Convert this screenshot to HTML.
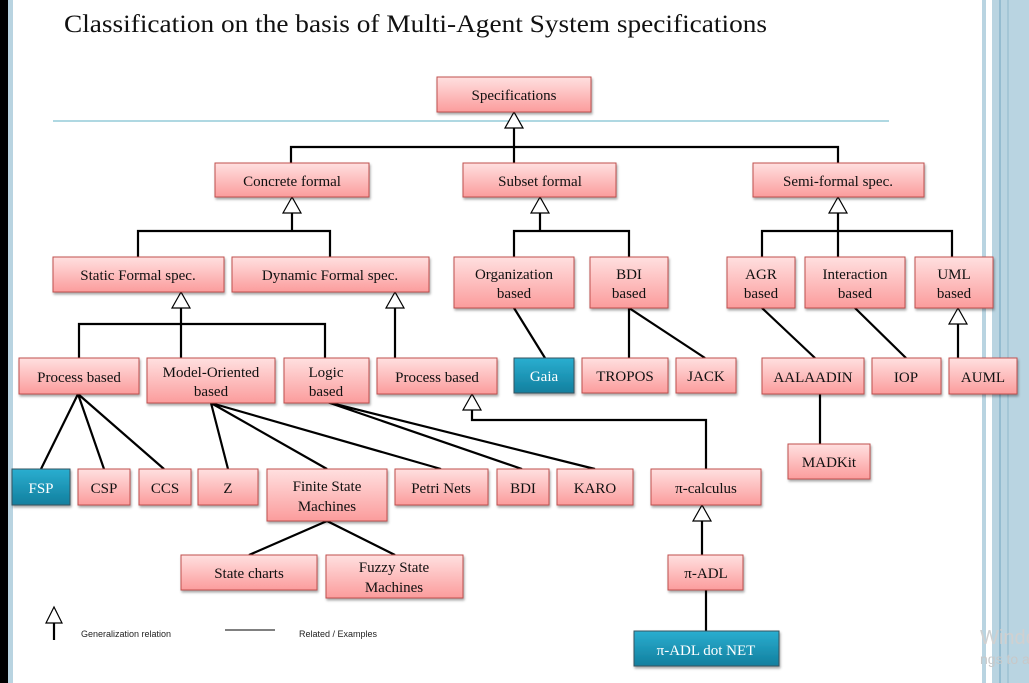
<!DOCTYPE html>
<html><head><meta charset="utf-8"><style>
html,body{margin:0;padding:0;background:#fff;}
svg{display:block;}
.b{font-family:"Liberation Serif",serif;font-size:15px;fill:#111;text-anchor:middle;}
.w{font-family:"Liberation Serif",serif;font-size:15px;fill:#fff;text-anchor:middle;}
</style></head><body>
<svg width="1029" height="683" viewBox="0 0 1029 683" xmlns="http://www.w3.org/2000/svg">
<defs>
<linearGradient id="p" x1="0" y1="0" x2="0" y2="1"><stop offset="0" stop-color="#ffe0e0"/><stop offset="1" stop-color="#fb9c9c"/></linearGradient>
<linearGradient id="bl" x1="0" y1="0" x2="0" y2="1"><stop offset="0" stop-color="#2aaed0"/><stop offset="1" stop-color="#127f9e"/></linearGradient>
<filter id="s" x="-10%" y="-10%" width="130%" height="140%"><feDropShadow dx="1" dy="2" stdDeviation="1.2" flood-color="#000" flood-opacity="0.35"/></filter>
</defs>
<rect x="0" y="0" width="8" height="683" fill="#000"/>
<rect x="8" y="0" width="5" height="683" fill="#b9d4e1"/>
<rect x="982" y="0" width="4" height="683" fill="#b9d4e1"/>
<rect x="992" y="0" width="37" height="683" fill="#b9d4e1"/>
<line x1="1000" y1="0" x2="1000" y2="683" stroke="#6fa5c0" stroke-width="1"/>
<line x1="1008" y1="0" x2="1008" y2="683" stroke="#8fb8cc" stroke-width="1"/>
<text x="64" y="32" font-family="Liberation Serif,serif" font-size="25" fill="#111" textLength="703" lengthAdjust="spacingAndGlyphs">Classification on the basis of  Multi-Agent System specifications</text>
<line x1="53" y1="121" x2="889" y2="121" stroke="#7fc0d0" stroke-width="1.2"/>
<g stroke="#000" stroke-width="2.2" fill="none">
<path d="M514 128V163M291 163V147H838V163"/>
<path d="M292 213V231M138 257V231H330V257"/>
<path d="M540 213V231M514 257V231H629V257"/>
<path d="M838 213V257M762 257V231H952V257"/>
<path d="M181 308V358M79 358V324H325V358"/>
<path d="M395 308V358"/>
<path d="M514 308L545 358M629 308V358M629 308L705 358"/>
<path d="M762 308L815 358M855 308L906 358M958 324V358"/>
<path d="M820 394V444"/>
<path d="M78 394L41 469M78 394L104 469M78 394L164 469"/>
<path d="M211 403L228 469M211 403L327 469M211 403L441 469"/>
<path d="M327 402L522 469M327 402L595 469"/>
<path d="M472 410V420H706V469"/>
<path d="M702 521V555M706 590V631"/>
<path d="M327 521L249 555M327 521L395 555"/>
<path d="M54 623V640"/>
</g>
<line x1="225" y1="630" x2="275" y2="630" stroke="#000" stroke-width="1"/>
<g fill="#fff" stroke="#000" stroke-width="1.2">
<path d="M514 112L505 128H523Z"/>
<path d="M292 197L283 213H301Z"/>
<path d="M540 197L531 213H549Z"/>
<path d="M838 197L829 213H847Z"/>
<path d="M181 292L172 308H190Z"/>
<path d="M395 292L386 308H404Z"/>
<path d="M958 308L949 324H967Z"/>
<path d="M472 394L463 410H481Z"/>
<path d="M702 505L693 521H711Z"/>
<path d="M54 607L46 623H62Z"/>
</g>
<text x="81" y="637" font-family="Liberation Sans,sans-serif" font-size="9" fill="#222">Generalization relation</text>
<text x="299" y="637" font-family="Liberation Sans,sans-serif" font-size="9" fill="#222">Related / Examples</text>
<text x="980" y="644" font-family="Liberation Sans,sans-serif" font-size="20" fill="#d0d0d0">Windo</text>
<text x="980" y="664" font-family="Liberation Sans,sans-serif" font-size="14" fill="#c8c8c8">ngs to a</text>
<g filter="url(#s)" stroke="#c0504d" stroke-width="1" fill="url(#p)">
<rect x="437" y="77" width="154" height="35"/>
<rect x="215" y="163" width="154" height="34"/>
<rect x="463" y="163" width="153" height="34"/>
<rect x="753" y="163" width="171" height="34"/>
<rect x="53" y="257" width="171" height="35"/>
<rect x="232" y="257" width="197" height="35"/>
<rect x="454" y="257" width="120" height="51"/>
<rect x="590" y="257" width="78" height="51"/>
<rect x="727" y="257" width="68" height="51"/>
<rect x="805" y="257" width="100" height="51"/>
<rect x="915" y="257" width="78" height="51"/>
<rect x="19" y="358" width="120" height="36"/>
<rect x="147" y="358" width="128" height="45"/>
<rect x="284" y="358" width="85" height="45"/>
<rect x="377" y="358" width="120" height="36"/>
<rect x="582" y="358" width="86" height="35"/>
<rect x="676" y="358" width="60" height="35"/>
<rect x="762" y="358" width="102" height="36"/>
<rect x="872" y="358" width="69" height="36"/>
<rect x="949" y="358" width="68" height="36"/>
<rect x="788" y="444" width="82" height="35"/>
<rect x="78" y="469" width="52" height="36"/>
<rect x="139" y="469" width="52" height="36"/>
<rect x="198" y="469" width="60" height="36"/>
<rect x="267" y="469" width="120" height="52"/>
<rect x="395" y="469" width="93" height="36"/>
<rect x="497" y="469" width="52" height="36"/>
<rect x="557" y="469" width="76" height="36"/>
<rect x="651" y="469" width="110" height="36"/>
<rect x="181" y="555" width="136" height="35"/>
<rect x="326" y="555" width="137" height="43"/>
<rect x="668" y="555" width="75" height="35"/>
</g>
<g filter="url(#s)" stroke="#34525e" stroke-width="1" fill="url(#bl)">
<rect x="514" y="358" width="60" height="35"/>
<rect x="12" y="469" width="58" height="36"/>
<rect x="634" y="631" width="145" height="35"/>
</g>
<text class="b" x="514" y="100">Specifications</text>
<text class="b" x="292" y="186">Concrete formal</text>
<text class="b" x="540" y="186">Subset formal</text>
<text class="b" x="838" y="186">Semi-formal spec.</text>
<text class="b" x="138" y="280">Static Formal spec.</text>
<text class="b" x="330" y="280">Dynamic Formal spec.</text>
<text class="b" x="514" y="279">Organization</text><text class="b" x="514" y="298">based</text>
<text class="b" x="629" y="279">BDI</text><text class="b" x="629" y="298">based</text>
<text class="b" x="761" y="279">AGR</text><text class="b" x="761" y="298">based</text>
<text class="b" x="855" y="279">Interaction</text><text class="b" x="855" y="298">based</text>
<text class="b" x="954" y="279">UML</text><text class="b" x="954" y="298">based</text>
<text class="b" x="79" y="382">Process based</text>
<text class="b" x="211" y="377">Model-Oriented</text><text class="b" x="211" y="396">based</text>
<text class="b" x="326" y="377">Logic</text><text class="b" x="326" y="396">based</text>
<text class="b" x="437" y="382">Process based</text>
<text class="w" x="544" y="381">Gaia</text>
<text class="b" x="625" y="381">TROPOS</text>
<text class="b" x="706" y="381">JACK</text>
<text class="b" x="813" y="382">AALAADIN</text>
<text class="b" x="906" y="382">IOP</text>
<text class="b" x="983" y="382">AUML</text>
<text class="b" x="829" y="467">MADKit</text>
<text class="w" x="41" y="493">FSP</text>
<text class="b" x="104" y="493">CSP</text>
<text class="b" x="165" y="493">CCS</text>
<text class="b" x="228" y="493">Z</text>
<text class="b" x="327" y="491">Finite State</text><text class="b" x="327" y="511">Machines</text>
<text class="b" x="441" y="493">Petri Nets</text>
<text class="b" x="523" y="493">BDI</text>
<text class="b" x="595" y="493">KARO</text>
<text class="b" x="706" y="493">π-calculus</text>
<text class="b" x="249" y="578">State charts</text>
<text class="b" x="394" y="572">Fuzzy State</text><text class="b" x="394" y="592">Machines</text>
<text class="b" x="706" y="578">π-ADL</text>
<text class="w" x="706" y="655">π-ADL dot NET</text>
</svg>
</body></html>
